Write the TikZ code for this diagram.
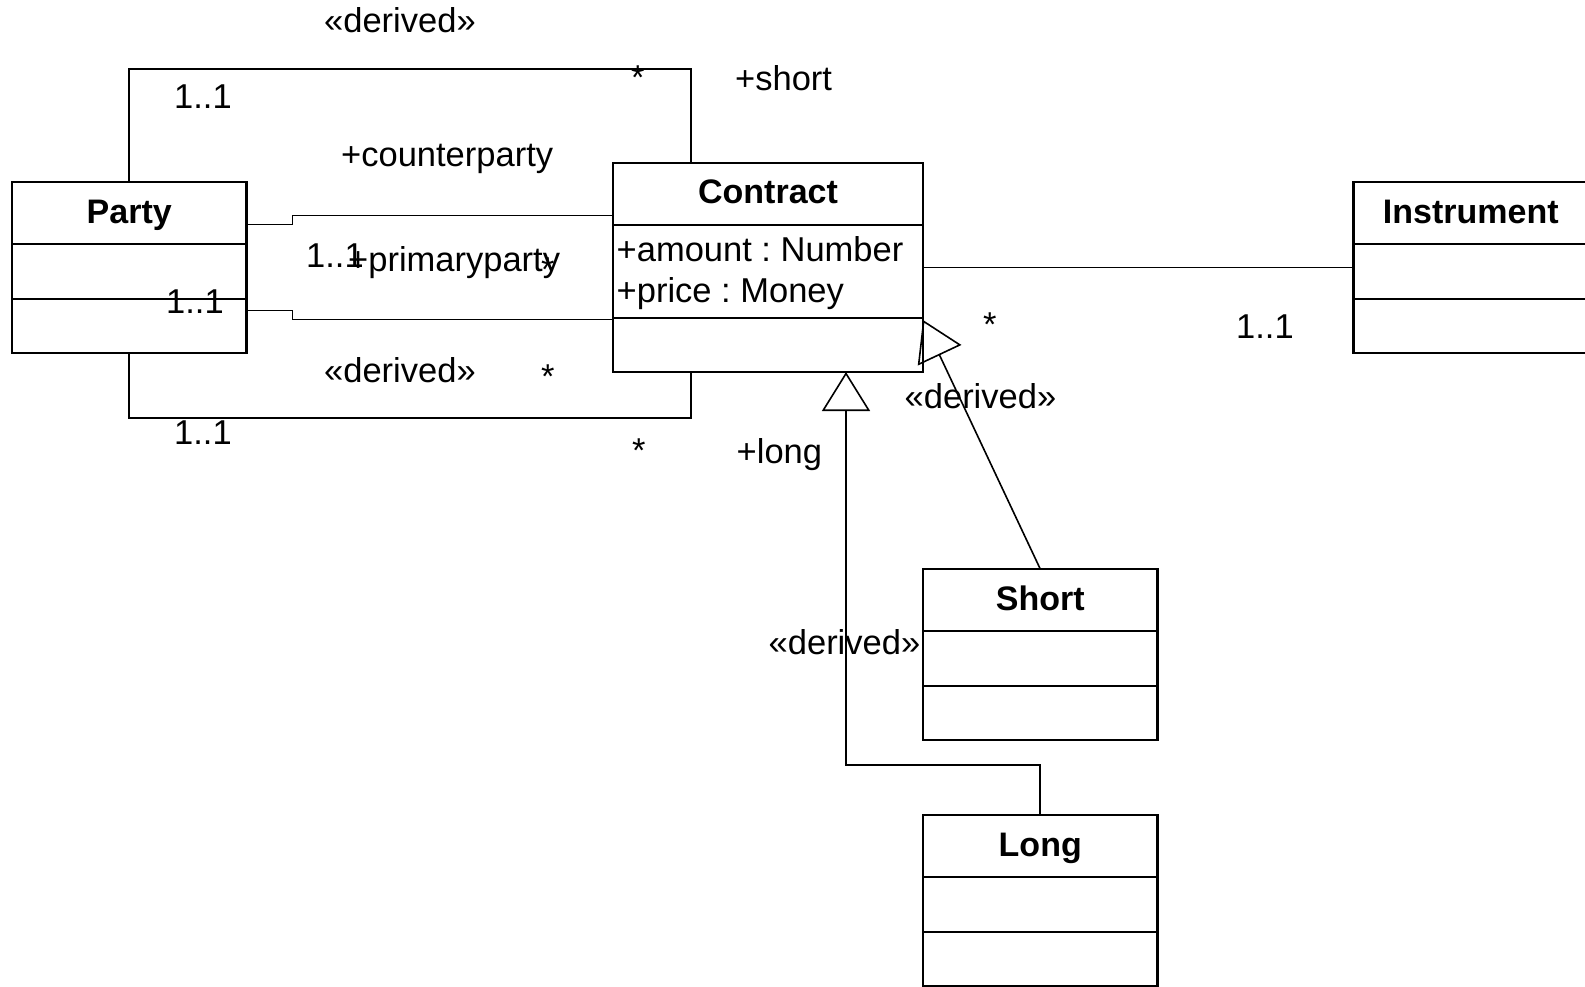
\documentclass[tikz,border=0pt]{standalone}
\usepackage{fontspec}
\setmainfont{Liberation Sans}
\usetikzlibrary{arrows.meta}
\frenchspacing

\tikzset{
  umlbox/.style={draw, rectangle, line width=2.8pt, inner sep=0pt, outer sep=0pt, anchor=north west},
  umltitle/.style={font=\fontsize{34}{40}\selectfont\bfseries, inner sep=0pt, anchor=base},
  compart/.style={line width=2.8pt},
  lbl/.style={font=\fontsize{34.5}{40}\selectfont, inner sep=0pt, anchor=base west},
  assoc/.style={line width=1.6pt},
  inherit/.style={line width=1.6pt, -{Triangle[open, length=39pt, width=48pt]}},
}

\begin{document}
\begin{tikzpicture}[x=1pt, y=-1pt]
			\useasboundingbox (0,0) rectangle (1585,986);
			%
			\def\classes {party/Party/12/182, instrument/Instrument/1353.5/182,
      short/Short/923/569, long/Long/923/815}  % class boxes
			\foreach \n/\t/\x/\y in \classes
			{	\node[umlbox, minimum width=234.5pt, minimum height=171pt] (\n) at (\x,\y) {};
				\node[umltitle] (\n-title) at ([yshift=-41pt]\n.north) {\t};
				\draw[compart] ([yshift=-62pt]\n.north west) -- ([yshift=-62pt]\n.north east);
				\draw[compart] ([yshift=-117pt]\n.north west) -- ([yshift=-117pt]\n.north east);
			}
			\node[umlbox, minimum width=310pt, minimum height=209pt] (contract) at (613,163) {};
			\node[umltitle] (contract-title) at ([yshift=-40pt]contract.north) {Contract};
			\draw[compart] ([yshift=-62pt]contract.north west) -- ([yshift=-62pt]contract.north east);
			\draw[compart] ([yshift=-155pt]contract.north west) -- ([yshift=-155pt]contract.north east);
			\node[lbl] (amount) at (616.5,261) {+amount : Number};
			\node[lbl] (price)  at (616.5,302) {+price : Money};
			%
			\draw[assoc] (party.north) -- ++(0,-113) -| ([xshift=-77pt]contract.north);
			\draw[assoc] (party.south) -- ++(0,65) -| ([xshift=-77pt]contract.south);
			\draw[assoc] ([yshift=43pt]party.east) -- ++(46,0) |- ([yshift=52pt]contract.west);
			\draw[assoc] ([yshift=-43pt]party.east) -- ++(46,0) |- ([yshift=-52pt]contract.west);
			\draw[assoc] (contract) -- (instrument);
			%
			\draw[inherit] (short.north) -- ([yshift=52pt]contract.south east);
			\draw[inherit] (long.north) -- ++(0,-50) -| ([xshift=78pt]contract.south);
			%
			\def\labels {derTop/324/32/{«derived»}, multA/174/108/{1..1}, starA/631/89/{*},
      roleShort/735/90/{+short}, roleCounter/341/166/{+counterparty},
      multB/306/267/{1..1}, rolePrimary/348/271/{+primaryparty}, starB/541/281/{*},
      multC/166/313/{1..1}, derBottom/324/382/{«derived»}, starC/541/388/{*},
      multD/174/444/{1..1}, starD/632/462/{*}, roleLong/736.5/463/{+long},
      starE/983/336/{*}, multE/1236/338/{1..1},
      derShort/904.5/408/{«derived»}, derLong/768.5/654/{«derived»}}  % labels
			\foreach \n/\x/\y/\txt in \labels
			{	\node[lbl] (\n) at (\x,\y) {\txt};
			}
		\end{tikzpicture}
\end{document}
